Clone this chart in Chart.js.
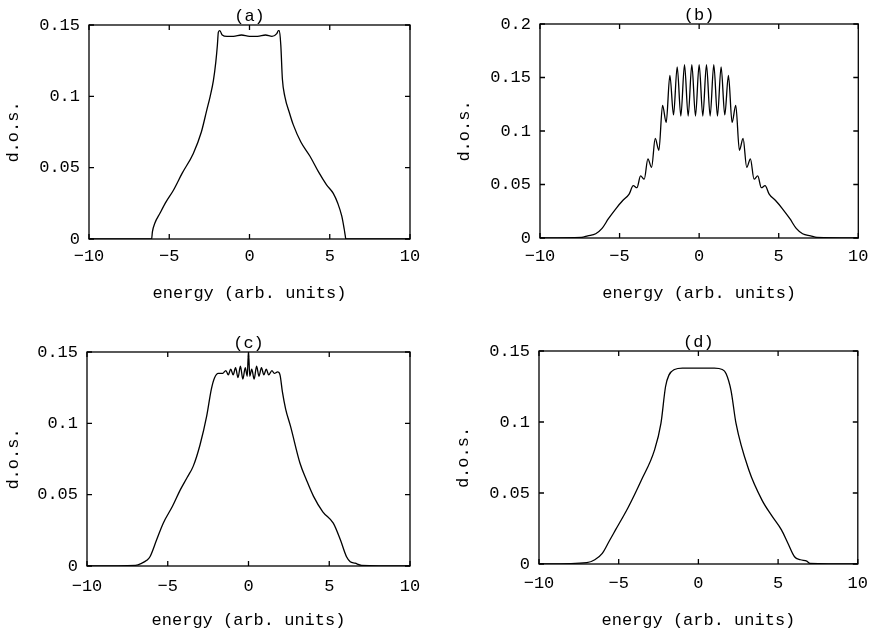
<!DOCTYPE html>
<html>
<head>
<meta charset="utf-8">
<script src="https://cdn.jsdelivr.net/npm/chart.js@4"></script>
<style>
  body { margin: 0; background: #fff; }
  #page { position: relative; width: 877px; height: 634px; }
  .panel { position: absolute; }
</style>
</head>
<body>
<div id="page">
  <div class="panel" style="left:0;top:0;width:438px;height:310px"><canvas id="dos-a"></canvas></div>
  <div class="panel" style="left:438px;top:0;width:439px;height:310px"><canvas id="dos-b"></canvas></div>
  <div class="panel" style="left:0;top:310px;width:438px;height:324px"><canvas id="dos-c"></canvas></div>
  <div class="panel" style="left:438px;top:310px;width:439px;height:324px"><canvas id="dos-d"></canvas></div>
</div>
<script>
// tick labels
const energyTicks = [-10, -5, 0, 5, 10];
const dosTicks015 = [0, 0.05, 0.1, 0.15];
const dosTicks02 = [0, 0.05, 0.1, 0.15, 0.2];

// (a)
const energyA = [-10, -6.1, -6.05, -5.9, -5.58, -5.2, -4.75, -4.2, -3.5, -3.0, -2.67, -2.45, -2.25, -2.1, -2.0, -1.94, -1.85, -1.7, -1.4, -1.0, -0.5, 0, 0.5, 1.0, 1.4, 1.7, 1.8, 1.86, 1.95, 2.05, 2.2, 2.5, 2.73, 3.2, 3.77, 4.3, 4.8, 5.22, 5.5, 5.75, 5.9, 5.97, 6.0, 10];
const dosA = [0, 0, 0.005, 0.011, 0.018, 0.026, 0.034, 0.046, 0.060, 0.075, 0.090, 0.100, 0.111, 0.124, 0.136, 0.145, 0.146, 0.143, 0.142, 0.142, 0.143, 0.142, 0.142, 0.143, 0.142, 0.144, 0.146, 0.146, 0.136, 0.112, 0.100, 0.088, 0.080, 0.068, 0.058, 0.047, 0.038, 0.032, 0.025, 0.016, 0.007, 0.002, 0, 0];

// (b)
const energyB = [-10, -7.4, -7.0, -6.5, -6.1, -5.7, -5.2, -4.8, -4.4, -4.14, -3.91, -3.68, -3.45, -3.22, -2.99, -2.76, -2.53, -2.3, -2.07, -1.84, -1.61, -1.38, -1.15, -0.92, -0.69, -0.46, -0.23, 0, 0.23, 0.46, 0.69, 0.92, 1.15, 1.38, 1.61, 1.84, 2.07, 2.3, 2.53, 2.76, 2.99, 3.22, 3.45, 3.68, 3.91, 4.14, 4.4, 4.8, 5.2, 5.7, 6.1, 6.5, 7.0, 7.4, 10];
const dosB = [0, 0.0005, 0.002, 0.004, 0.009, 0.018, 0.028, 0.035, 0.041, 0.049, 0.047, 0.058, 0.055, 0.074, 0.066, 0.093, 0.082, 0.124, 0.108, 0.152, 0.115, 0.160, 0.114, 0.162, 0.114, 0.162, 0.114, 0.162, 0.114, 0.162, 0.114, 0.162, 0.114, 0.160, 0.115, 0.152, 0.108, 0.124, 0.082, 0.093, 0.066, 0.074, 0.055, 0.058, 0.047, 0.049, 0.041, 0.035, 0.028, 0.018, 0.009, 0.004, 0.002, 0.0005, 0];

// (c)
const energyC = [-10, -7.0, -6.6, -6.3, -6.1, -5.7, -5.28, -4.7, -4.24, -3.8, -3.42, -3.0, -2.59, -2.3, -2.1, -1.87, -1.6, -1.4, -1.25, -1.1, -0.95, -0.8, -0.65, -0.5, -0.35, -0.2, -0.08, 0, 0.08, 0.2, 0.35, 0.5, 0.65, 0.8, 0.95, 1.1, 1.25, 1.45, 1.6, 1.8, 1.95, 2.1, 2.3, 2.6, 3.19, 3.6, 4.02, 4.6, 5.25, 5.7, 6.07, 6.3, 6.6, 7.0, 10];
const dosC = [0, 0.0005, 0.002, 0.004, 0.0065, 0.018, 0.030, 0.042, 0.053, 0.062, 0.070, 0.085, 0.105, 0.124, 0.132, 0.135, 0.135, 0.137, 0.134, 0.138, 0.134, 0.139, 0.132, 0.140, 0.131, 0.139, 0.133, 0.150, 0.133, 0.138, 0.131, 0.140, 0.133, 0.139, 0.134, 0.138, 0.134, 0.137, 0.135, 0.136, 0.134, 0.122, 0.110, 0.098, 0.072, 0.060, 0.049, 0.038, 0.030, 0.018, 0.0065, 0.003, 0.002, 0.0005, 0];

// (d)
const energyD = [-10, -7.0, -6.5, -6.03, -5.6, -5.2, -4.4, -3.58, -2.76, -2.35, -2.06, -1.85, -1.5, -1.0, 0, 1.0, 1.5, 1.74, 2.05, 2.36, 3.17, 3.99, 4.6, 5.21, 5.6, 6.03, 6.4, 6.8, 7.0, 10];
const dosD = [0, 0.001, 0.003, 0.0075, 0.016, 0.024, 0.040, 0.059, 0.080, 0.099, 0.125, 0.133, 0.137, 0.138, 0.138, 0.138, 0.137, 0.134, 0.122, 0.099, 0.066, 0.045, 0.034, 0.024, 0.015, 0.0051, 0.003, 0.002, 0.0005, 0];

const FONT = "'Liberation Mono', 'DejaVu Sans Mono', monospace";

// box around the plot with inward tick marks on all four sides
const frame = {
  id: "frame",
  afterDatasetsDraw(chart) {
    const { ctx, chartArea: a, scales } = chart;
    ctx.save();
    ctx.strokeStyle = "#000";
    ctx.lineWidth = 1.3;
    ctx.strokeRect(a.left, a.top, a.right - a.left, a.bottom - a.top);
    ctx.beginPath();
    scales.x.ticks.forEach((t) => {
      const px = scales.x.getPixelForValue(t.value);
      ctx.moveTo(px, a.bottom); ctx.lineTo(px, a.bottom - 5);
      ctx.moveTo(px, a.top); ctx.lineTo(px, a.top + 5);
    });
    scales.y.ticks.forEach((t) => {
      const py = scales.y.getPixelForValue(t.value);
      ctx.moveTo(a.left, py); ctx.lineTo(a.left + 5, py);
      ctx.moveTo(a.right, py); ctx.lineTo(a.right - 5, py);
    });
    ctx.stroke();
    ctx.restore();
  },
};

function drawDos(id, label, energy, dos, yTicks, L) {
  const dataset = energy.map((e, i) => ({ x: e, y: dos[i] }));
  new Chart(document.getElementById(id), {
    type: "line",
    data: {
      datasets: [
        {
          data: dataset,
          borderColor: "#000",
          borderWidth: 1.3,
          pointRadius: 0,
          cubicInterpolationMode: "monotone",
        },
      ],
    },
    options: {
      animation: false,
      responsive: true,
      maintainAspectRatio: false,
      layout: { padding: { left: 0, right: L.right, top: 0, bottom: 0 } },
      plugins: {
        legend: { display: false },
        tooltip: { enabled: false },
        title: {
          display: true,
          fullSize: false,
          text: label,
          color: "#000",
          font: { family: FONT, size: 17, weight: "normal", lineHeight: 1 },
          padding: { top: L.top - 17, bottom: 0 },
        },
      },
      scales: {
        x: {
          type: "linear",
          min: -10,
          max: 10,
          afterBuildTicks: (s) => { s.ticks = energyTicks.map((v) => ({ value: v })); },
          afterFit: (s) => { s.height = L.xh; },
          grid: { display: false, drawTicks: false },
          border: { display: false },
          ticks: {
            color: "#000",
            padding: L.xtp,
            maxRotation: 0,
            font: { family: FONT, size: 17 },
            callback: (v) => String(v).replace("-", "\u2212"),
          },
          title: {
            display: true,
            text: "energy (arb. units)",
            color: "#000",
            font: { family: FONT, size: 17 },
            padding: { top: 0, bottom: L.xttp },
          },
        },
        y: {
          min: 0,
          max: yTicks[yTicks.length - 1],
          afterBuildTicks: (s) => { s.ticks = yTicks.map((v) => ({ value: v })); },
          afterFit: (s) => { s.width = L.yw; },
          grid: { display: false, drawTicks: false },
          border: { display: false },
          ticks: {
            color: "#000",
            padding: 9,
            font: { family: FONT, size: 17 },
            callback: (v) => String(v),
          },
          title: {
            display: true,
            text: "d.o.s.",
            color: "#000",
            font: { family: FONT, size: 17 },
            padding: { top: L.ytp, bottom: 0 },
          },
        },
      },
    },
    plugins: [frame],
  });
}

drawDos("dos-a", "(a)", energyA, dosA, dosTicks015, { right: 28, top: 25, xh: 71, yw: 89, xtp: 7.5, xttp: 6.8, ytp: 3.3 });
drawDos("dos-b", "(b)", energyB, dosB, dosTicks02, { right: 13, top: 24, xh: 72, yw: 102, xtp: 8.5, xttp: 6.5, ytp: 15.8 });
drawDos("dos-c", "(c)", energyC, dosC, dosTicks015, { right: 28, top: 42, xh: 68, yw: 87, xtp: 10.5, xttp: 3.8, ytp: 3.1 });
drawDos("dos-d", "(d)", energyD, dosD, dosTicks015, { right: 12, top: 41, xh: 70, yw: 101, xtp: 9, xttp: 3.8, ytp: 15.5 });
</script>
</body>
</html>
